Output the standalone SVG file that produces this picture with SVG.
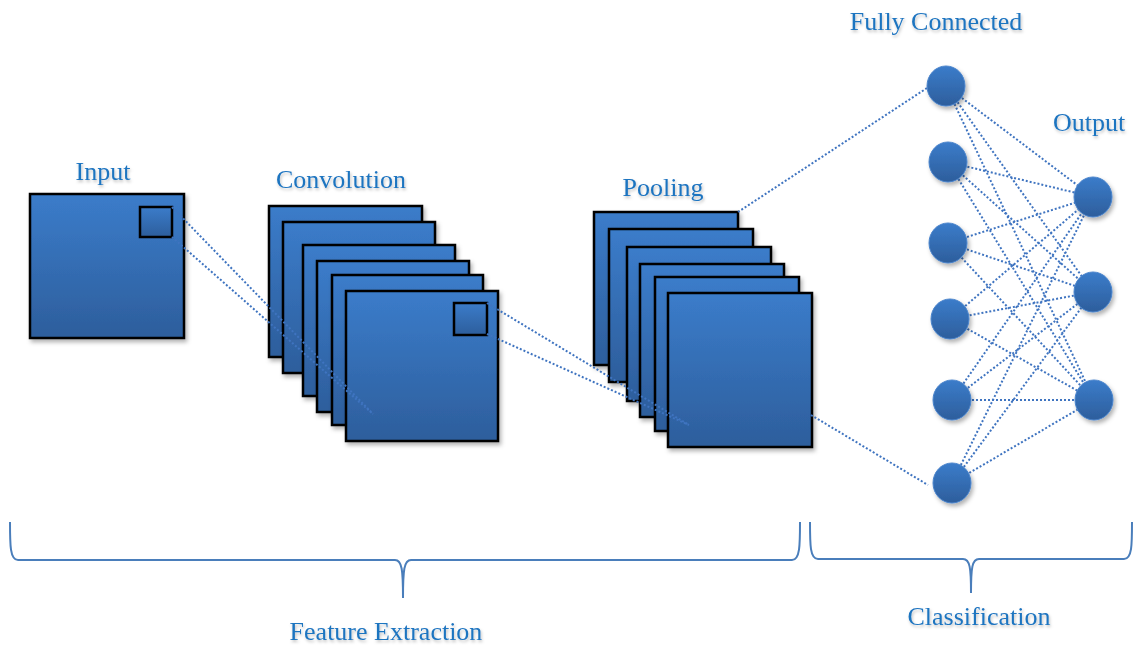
<svg xmlns="http://www.w3.org/2000/svg" width="1135" height="648" viewBox="0 0 1135 648">
<defs>
<linearGradient id="g" x1="0" y1="0" x2="0" y2="1">
<stop offset="0" stop-color="#3b7cca"/>
<stop offset="1" stop-color="#2d5e9c"/>
</linearGradient>
<filter id="sh" x="-20%" y="-20%" width="150%" height="150%">
<feDropShadow dx="2" dy="3" stdDeviation="2" flood-color="#000" flood-opacity="0.3"/>
</filter>
<filter id="tsh" x="-10%" y="-30%" width="120%" height="170%">
<feDropShadow dx="1" dy="2" stdDeviation="1.5" flood-color="#000" flood-opacity="0.25"/>
</filter>
<style>
.sq{fill:url(#g);stroke:#000;stroke-width:2.5;filter:url(#sh)}
.nd{fill:url(#g);stroke:#4a84cc;stroke-width:1;filter:url(#sh)}
.lbl{font-family:"Liberation Serif",serif;font-size:26px;fill:#1e74c0;text-anchor:middle;filter:url(#tsh)}
.dl{stroke:#3f74c0;stroke-width:2;stroke-dasharray:2 2;fill:none}
.br{stroke:#4a7ebb;stroke-width:2;fill:none}
</style>
</defs>
<rect width="1135" height="648" fill="#fff"/>

<g id="input">
<rect class="sq" x="30" y="194" width="154" height="144"/>
<rect class="sq" x="140" y="207" width="32" height="30" style="filter:none"/>
<text class="lbl" x="103" y="180">Input</text>
</g>

<g id="convolution">
<rect class="sq" x="269" y="206" width="153" height="151"/>
<rect class="sq" x="283" y="222" width="152" height="151"/>
<rect class="sq" x="303" y="245" width="152" height="151"/>
<rect class="sq" x="317" y="261" width="152" height="151"/>
<rect class="sq" x="332" y="275" width="151" height="150"/>
<rect class="sq" x="346" y="291" width="152" height="150"/>
<rect class="sq" x="454" y="303" width="33" height="32" style="filter:none"/>
<text class="lbl" x="341" y="188">Convolution</text>
</g>

<g id="pooling">
<rect class="sq" x="594" y="212" width="144" height="153"/>
<rect class="sq" x="609" y="229" width="144" height="153"/>
<rect class="sq" x="627" y="247" width="144" height="154"/>
<rect class="sq" x="640" y="264" width="144" height="153"/>
<rect class="sq" x="655" y="277" width="144" height="154"/>
<rect class="sq" x="668" y="293" width="144" height="154"/>
<text class="lbl" x="663" y="196">Pooling</text>
</g>

<g id="connectors">
<path class="dl" d="M172 207L373 414M172 237L373 414"/>
<path class="dl" d="M487 303L689 425M487 334L689 425"/>
<path class="dl" d="M738 212L927 88M811 415L928 485"/>
<path class="dl" d="M946 86L1093 197M946 86L1093 292M946 86L1094 400
M948 162L1093 197M948 162L1093 292M948 162L1094 400
M948 243L1093 197M948 243L1093 292M948 243L1094 400
M950 319L1093 197M950 319L1093 292M950 319L1094 400
M952 400L1093 197M952 400L1093 292M952 400L1094 400
M952 483L1093 197M952 483L1093 292M952 483L1094 400"/>
</g>

<g id="fully-connected">
<ellipse class="nd" cx="946" cy="86" rx="19" ry="20"/>
<ellipse class="nd" cx="948" cy="162" rx="19" ry="20"/>
<ellipse class="nd" cx="948" cy="243" rx="19" ry="20"/>
<ellipse class="nd" cx="950" cy="319" rx="19" ry="20"/>
<ellipse class="nd" cx="952" cy="400" rx="19" ry="20"/>
<ellipse class="nd" cx="952" cy="483" rx="19" ry="20"/>
<text class="lbl" x="936" y="30">Fully Connected</text>
</g>

<g id="output">
<ellipse class="nd" cx="1093" cy="197" rx="19" ry="20"/>
<ellipse class="nd" cx="1093" cy="292" rx="19" ry="20"/>
<ellipse class="nd" cx="1094" cy="400" rx="19" ry="20"/>
<text class="lbl" x="1089" y="131">Output</text>
</g>

<g id="feature-extraction">
<path class="br" d="M10 522C10 545 10 560 18 560L395 560C402 560 403 570 403 598C403 570 404 560 411 560L792 560C800 560 800 545 800 522"/>
<text class="lbl" x="386" y="640">Feature Extraction</text>
</g>

<g id="classification">
<path class="br" d="M810 522C810 545 810 559 818 559L963 559C970 559 971 568 971 593C971 568 972 559 979 559L1124 559C1132 559 1132 545 1132 522"/>
<text class="lbl" x="979" y="625">Classification</text>
</g>
</svg>
